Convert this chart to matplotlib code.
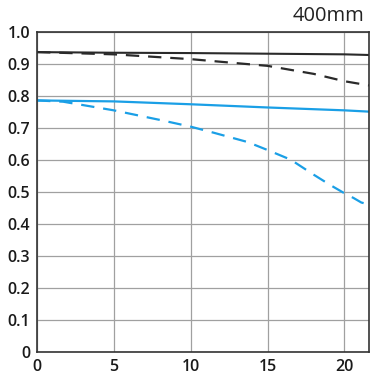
import matplotlib
matplotlib.use("Agg")
import matplotlib.pyplot as plt

x_black_solid = [0, 5, 10, 15, 20, 21.6]
y_black_solid = [0.936, 0.934, 0.933, 0.931, 0.929, 0.927]
x_black_dash = [0, 5, 10, 15, 18, 20, 21.6]
y_black_dash = [0.936, 0.929, 0.914, 0.893, 0.868, 0.845, 0.832]
x_blue_solid = [0, 5, 10, 15, 20, 21.6]
y_blue_solid = [0.785, 0.782, 0.773, 0.763, 0.754, 0.750]
x_blue_dash = [0, 1.7, 5, 8.2, 10, 11.5, 13.7, 15, 16.5, 18, 19.1, 20, 20.6, 21.1, 21.6]
y_blue_dash = [0.785, 0.781, 0.754, 0.722, 0.703, 0.684, 0.655, 0.630, 0.600, 0.553, 0.520, 0.495, 0.480, 0.466, 0.460]
xticks = [0, 5, 10, 15, 20]
yticks = [0, 0.1, 0.2, 0.3, 0.4, 0.5, 0.6, 0.7, 0.8, 0.9, 1.0]
ylabels = ["0", "0.1", "0.2", "0.3", "0.4", "0.5", "0.6", "0.7", "0.8", "0.9", "1.0"]

plt.rcParams['font.family'] = ['Open Sans', 'DejaVu Sans']
fig = plt.figure(figsize=(3.82, 3.81), dpi=100)
ax = fig.add_axes([0.097, 0.077, 0.869, 0.84])
blue = '#1a9fe6'
dark = '#2a2a2a'
ax.plot(x_black_solid, y_black_solid, color=dark, lw=1.5)
ax.plot(x_black_dash, y_black_dash, color=dark, lw=1.6, dashes=(6, 4))
ax.plot(x_blue_solid, y_blue_solid, color=blue, lw=1.6)
ax.plot(x_blue_dash, y_blue_dash, color=blue, lw=1.6, dashes=(6, 4))
ax.set_xlim(0, 21.6)
ax.set_ylim(0, 1.0)
ax.set_xticks(xticks)
ax.set_xticklabels([str(t) for t in xticks])
ax.set_yticks(yticks)
ax.set_yticklabels(ylabels)
ax.grid(True, color='#a0a0a0', lw=0.9)
ax.set_axisbelow(True)
ax.tick_params(length=0, labelsize=11.5, colors='#1a1a1a', pad=5)
for t in ax.get_xticklabels() + ax.get_yticklabels():
    t.set_fontweight('semibold')
for s in ax.spines.values():
    s.set_color('#333333')
    s.set_linewidth(1.2)
fig.text(0.955, 0.957, '400mm', ha='right', va='center', fontsize=14.5, color='#222222')
fig.savefig('out.png', dpi=100)
